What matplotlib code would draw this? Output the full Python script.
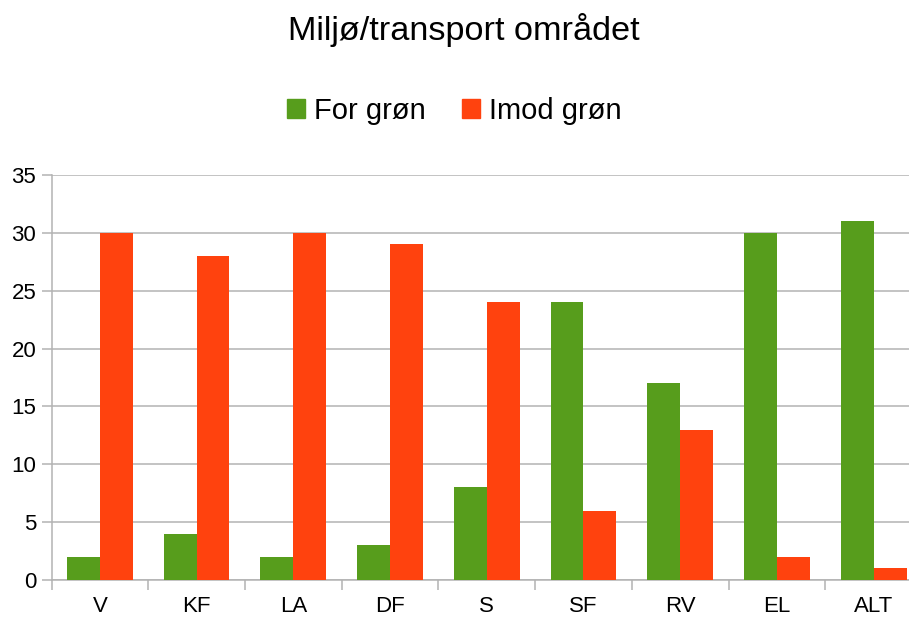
import matplotlib
matplotlib.use("Agg")
import matplotlib.pyplot as plt
import numpy as np
from matplotlib.patches import Patch

# data
categories = ["V", "KF", "LA", "DF", "S", "SF", "RV", "EL", "ALT"]
for_gron = [2, 4, 2, 3, 8, 24, 17, 30, 31]
imod_gron = [30, 28, 30, 29, 24, 6, 13, 2, 1]
series_names = ["For grøn", "Imod grøn"]
yticks = [0, 5, 10, 15, 20, 25, 30, 35]

green = "#579d1c"
red = "#ff420e"
grid_col = "#b3b3b3"

plt.rcParams['font.family'] = ['Liberation Sans', 'DejaVu Sans']

fig = plt.figure(figsize=(9.09, 6.17), dpi=100)
W, H = 909, 617
# plot area in pixels (right edge runs past the image like the original)
left, right, top, bottom = 51.5, 922, 175, 580
ax = fig.add_axes([left / W, 1 - bottom / H, (right - left) / W, (bottom - top) / H])

x = np.arange(len(categories))
bw = 0.34
ax.bar(x - bw / 2, for_gron, bw, color=green, zorder=3)
ax.bar(x + bw / 2, imod_gron, bw, color=red, zorder=3)

ax.set_xlim(-0.5, len(categories) - 0.5)
ax.set_ylim(0, 35)
ax.set_yticks(yticks)
ax.yaxis.grid(True, color=grid_col, linewidth=1.1, zorder=0)
ax.set_axisbelow(True)

ax.set_xticks(x)
ax.set_xticklabels(categories)
ax.set_xticks(np.arange(len(categories) + 1) - 0.5, minor=True)
ax.tick_params(axis="x", which="major", length=0, labelsize=16, pad=11.5)
ax.tick_params(axis="x", which="minor", length=7.5, width=1.1, color=grid_col)
ax.tick_params(axis="y", length=7, width=1.1, color=grid_col, labelsize=16, pad=4)

for s in ["top", "right"]:
    ax.spines[s].set_visible(False)
for s in ["left", "bottom"]:
    ax.spines[s].set_color(grid_col)
    ax.spines[s].set_linewidth(1.1)

fig.text(464 / W, 1 - 30 / H, "Miljø/transport området", ha="center", va="center", fontsize=24.7)

handles = [Patch(color=green), Patch(color=red)]
fig.legend(handles, series_names, loc="center", bbox_to_anchor=(454 / W, 1 - 111 / H),
           ncol=2, frameon=False, fontsize=21, handlelength=0.62, handleheight=0.62,
           handletextpad=0.3, columnspacing=1.25)

fig.savefig("out.png", dpi=100)
